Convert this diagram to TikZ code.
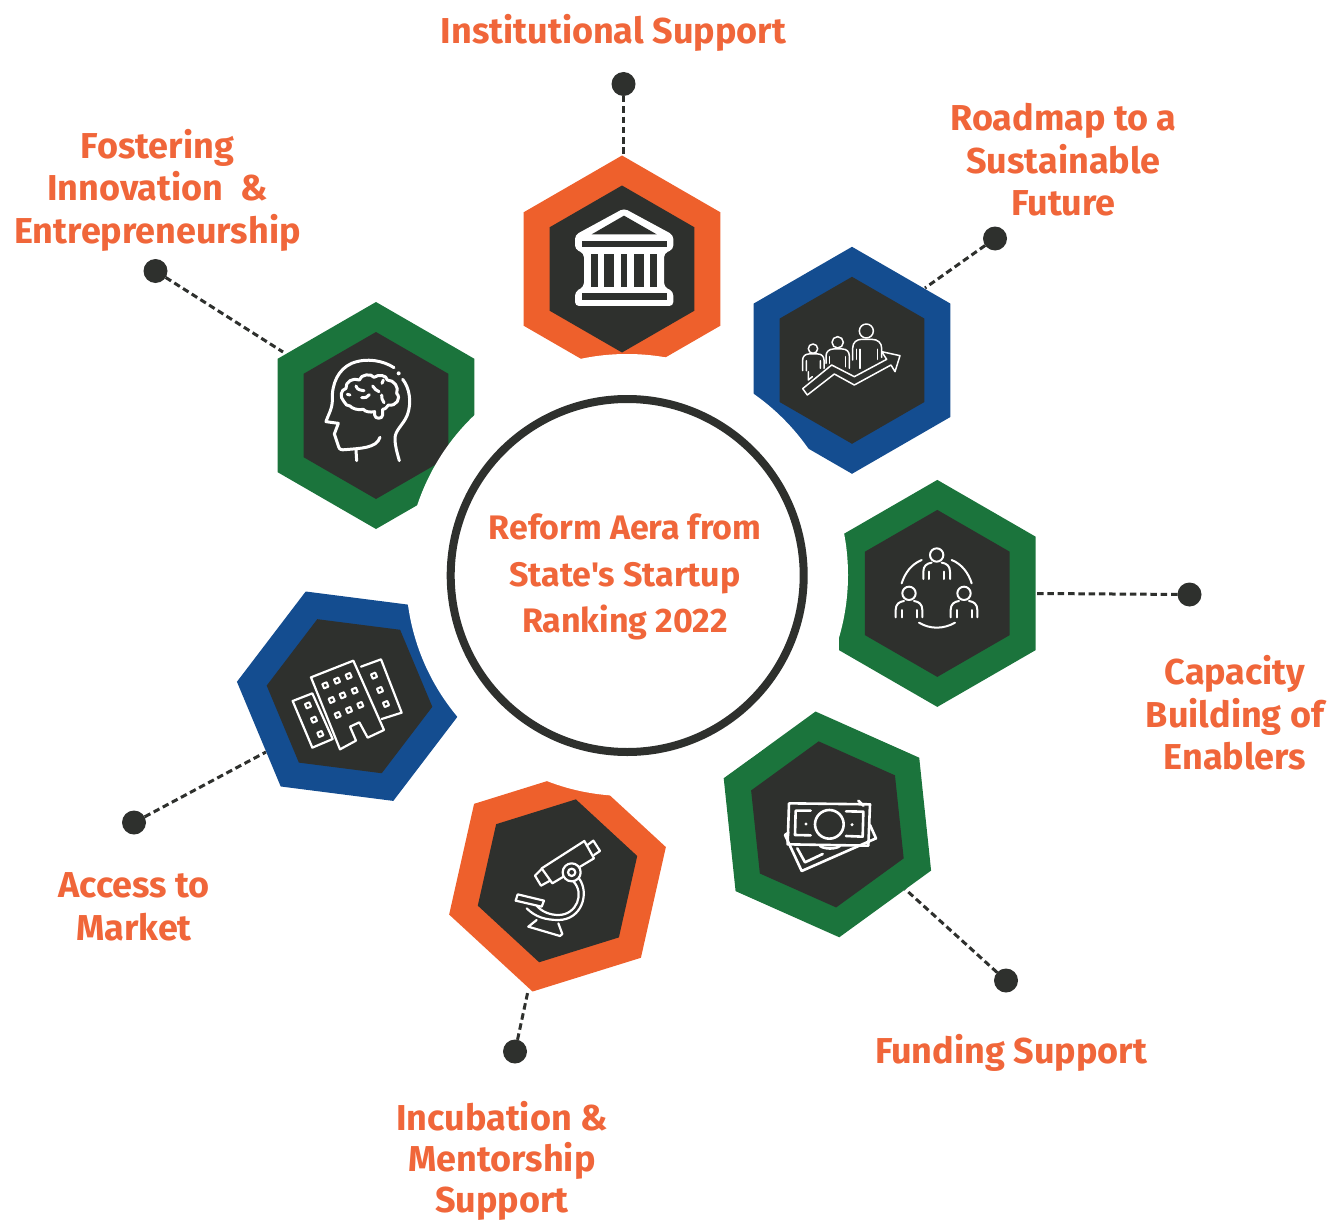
\documentclass[tikz,border=0pt]{standalone}
\usepackage{fontspec}
\newfontfamily\labfont{Fira Sans}
\usetikzlibrary{shapes.geometric}
\definecolor{orangeC}{HTML}{EE602C}
\definecolor{blueC}{HTML}{144D90}
\definecolor{greenC}{HTML}{1B743C}
\definecolor{darkC}{HTML}{2E302D}
\definecolor{textC}{HTML}{F0663A}
\tikzset{
  outerhex/.style={regular polygon,regular polygon sides=6,shape border rotate=30,minimum size=227pt,inner sep=0pt,outer sep=0pt,fill=#1},
  innerhex/.style={regular polygon,regular polygon sides=6,shape border rotate=30,minimum size=167pt,inner sep=0pt,outer sep=0pt,fill=darkC},
  enddot/.style={circle,fill=darkC,minimum size=24pt,inner sep=0pt,outer sep=0pt},
  linker/.style={draw=darkC,line width=3pt,dash pattern=on 6.5pt off 3.8pt},
  lab/.style={text=textC,align=center,inner sep=0pt,font=\fontsize{36}{42.5}\selectfont\labfont\bfseries},
  hublab/.style={text=textC,align=center,inner sep=0pt,font=\fontsize{34}{46.5}\selectfont\labfont\bfseries},
  icon/.style={draw=white,line width=#1,line cap=round,line join=round}
}
\begin{document}
\begin{tikzpicture}[x=1pt,y=-1pt]
\useasboundingbox (0,0) rectangle (1328,1220);
% connectors' free ends on the hexagons
\coordinate (e1) at (623.5,158);
\coordinate (e2) at (925,288);
\coordinate (e3) at (1037,593.5);
\coordinate (e4) at (905,889);
\coordinate (e5) at (528,991);
\coordinate (e6) at (266,752);
\coordinate (e7) at (283,352);
% dots
\node[enddot] (d1) at (623.5,84) {};
\node[enddot] (d2) at (995,238.5) {};
\node[enddot] (d3) at (1189.5,594.5) {};
\node[enddot] (d4) at (1006,980.5) {};
\node[enddot] (d5) at (515,1051.5) {};
\node[enddot] (d6) at (134,822.5) {};
\node[enddot] (d7) at (155.5,271) {};
\foreach \n in {1,...,7}{\draw[linker] (d\n) -- (e\n);}
% hexagons
\node[outerhex=orangeC] (h1) at (622,269) {};
\node[innerhex] (i1) at (622,269) {};
\node[outerhex=blueC] (h2) at (852,360.3) {};
\node[innerhex] (i2) at (852,360.3) {};
\node[outerhex=greenC] (h3) at (937.3,593.4) {};
\node[innerhex] (i3) at (937.3,593.4) {};
\node[outerhex=greenC,rotate=6] (h4) at (827.4,824.4) {};
\node[innerhex,rotate=6] (i4) at (827.4,824.4) {};
\node[outerhex=orangeC,rotate=-12.7] (h5) at (557.5,880.8) {};
\node[innerhex,rotate=-12.7] (i5) at (557.5,880.8) {};
\node[outerhex=blueC,rotate=22.7] (h6) at (349.5,696.2) {};
\node[innerhex,rotate=22.7] (i6) at (349.5,696.2) {};
\node[outerhex=greenC] (h7) at (376,415.5) {};
\node[innerhex] (i7) at (376,415.5) {};
% centre
\node[circle,fill=white,minimum size=442pt,inner sep=0pt,outer sep=0pt] (halo) at (627,575) {};
\node[circle,draw=darkC,fill=white,line width=8pt,minimum size=353pt,inner sep=0pt] (hub) at (627.2,575.5) {};
\node[hublab] (hubtext) at (625,577) {Reform Aera from\\State's Startup\\Ranking 2022};
% labels
\node[lab] (l1) at (613.5,33) {Institutional Support};
\node[lab] (l2) at (1063.5,160) {Roadmap to a\\Sustainable\\Future};
\node[lab] (l3) at (1235,713) {Capacity\\Building of\\Enablers};
\node[lab] (l4) at (1011,1053) {Funding Support};
\node[lab,font=\fontsize{36}{41}\selectfont\labfont\bfseries] (l5) at (502,1160.5) {Incubation \&\\Mentorship\\Support};
\node[lab] (l6) at (134,907) {Access to\\Market};
\node[lab] (l7) at (157.5,190) {Fostering\\Innovation \ \&\\Entrepreneurship};
% institution icon
\begin{scope}[shift={(510,150)},scale=1/3]
\fill[white,rounded corners=4pt] (342,175) -- (195,255) -- (195,298) -- (222,310) -- (222,410) -- (195,425) -- (195,468) -- (490,468) -- (490,425) -- (462,410) -- (462,310) -- (490,298) -- (490,255) -- cycle;
\fill[darkC] (342,197) -- (245,253) -- (440,253) -- cycle;
\fill[darkC] (215,272) rectangle (470,292);
\fill[darkC] (215,430) rectangle (470,450);
\foreach \a/\b in {243/263,283/312,332/352,372/401,421/441}{\fill[darkC] (\a,312) rectangle (\b,410);}
\end{scope}
% roadmap icon
\begin{scope}[shift={(510,150)},scale=1/3]
\draw[icon=1.5pt] (878,716) -- (965,645) -- (1033,680) -- (1130,628) -- (1115,605) -- (1170,617) -- (1155,665) -- (1143,645) -- (1033,705) -- (973,672) -- (892,735) -- cycle;
\draw[icon=1.5pt] (1069,543) circle[radius=21];
\draw[icon=1.5pt] (1028,630) -- (1028,595) .. controls (1028,577) and (1040,568) .. (1055,568) -- (1085,568) .. controls (1103,568) and (1115,578) .. (1115,595) -- (1115,622);
\draw[icon=1.5pt] (1040,628) -- (1040,598) (1050,655) -- (1050,598) (1102,628) -- (1102,598);
\draw[icon=1.5pt] (983,577) circle[radius=17];
\draw[icon=1.5pt] (948,640) -- (948,618) .. controls (948,605) and (958,597) .. (970,597) -- (997,597) .. controls (1010,597) and (1018,605) .. (1018,618) -- (1018,655);
\draw[icon=1.5pt] (958,640) -- (958,620) (1007,650) -- (1007,620);
\draw[icon=1.5pt] (909,596) circle[radius=14];
\draw[icon=1.5pt] (878,662) -- (878,630) .. controls (878,620) and (885,612) .. (896,612) -- (924,612) .. controls (935,612) and (942,620) .. (942,630) -- (942,655);
\draw[icon=1.5pt] (889,662) -- (889,632) (931,655) -- (931,632) (895,665) -- (895,690) -- (907,680);
\end{scope}
% capacity icon
\begin{scope}[shift={(830,480)},scale=1/3]
\foreach \dx/\dy in {0/0,-83/115,82/115}{
  \begin{scope}[shift={(\dx,\dy)}]
  \draw[icon=2pt] (320,225) circle[radius=20];
  \draw[icon=2pt] (280,297) -- (280,275) .. controls (280,258) and (290,250) .. (305,248);
  \draw[icon=2pt] (335,248) .. controls (350,250) and (360,258) .. (360,275) -- (360,297);
  \draw[icon=2pt] (298,275) -- (298,297) (343,275) -- (343,297);
  \end{scope}
}
\draw[icon=2pt] (275,240) .. controls (245,252) and (225,278) .. (215,310);
\draw[icon=2pt] (365,240) .. controls (395,252) and (415,278) .. (425,310);
\draw[icon=2pt] (267,428) .. controls (300,448) and (340,448) .. (375,428);
\end{scope}
% funding icon
\begin{scope}[shift={(720,710)},scale=1/3]
\draw[icon=2.6pt] (415,272) -- (430,287);
\draw[icon=2.6pt] (450,345) -- (468,385) -- (245,483) -- (195,375) -- (205,368);
\draw[icon=2.6pt] (232,415) -- (255,457) -- (308,432);
\draw[icon=2.6pt] (300,408) .. controls (315,418) and (345,418) .. (360,408);
\draw[icon=2.6pt] (207,280) -- (450,283) -- (445,407) -- (203,403) -- cycle;
\draw[icon=2.6pt] (272,302) -- (227,302) -- (225,375) -- (272,376);
\draw[icon=2.6pt] (378,378) -- (428,380) -- (430,305) -- (378,304);
\draw[icon=2.6pt] (328,343) circle[radius=43];
\fill[white] (258,342) circle[radius=5] (396,344) circle[radius=5];
\end{scope}
% microscope icon
\begin{scope}[shift={(445,780)},scale=1/3]
\draw[icon=2.2pt] (290,265) -- (418,183) -- (447,235) -- (322,310) -- cycle;
\draw[icon=2.2pt] (425,197) -- (445,182) -- (465,213) -- (447,225);
\draw[icon=2.2pt] (290,267) -- (270,287) -- (288,317) -- (315,302);
\draw[icon=2.2pt,fill=darkC] (380,277) circle[radius=27];
\draw[icon=2.2pt] (380,277) circle[radius=11];
\draw[icon=2.2pt] (402,295) .. controls (435,340) and (410,420) .. (340,420) .. controls (300,420) and (270,410) .. (245,385);
\draw[icon=2.2pt] (385,304) .. controls (420,340) and (395,405) .. (340,405) .. controls (315,405) and (290,395) .. (275,377);
\draw[icon=2.2pt] (212,362) -- (218,343) -- (297,362) -- (290,380) -- cycle;
\draw[icon=2.2pt] (250,440) -- (275,420);
\draw[icon=2.2pt] (340,430) -- (352,462) -- (345,468) -- (250,440);
\end{scope}
% building icon
\begin{scope}[shift={(235,590)},scale=1/3]
\draw[icon=2.2pt] (228,262) -- (355,212) -- (447,420) -- (398,443) -- (373,397) -- (345,410) -- (363,452) -- (315,478) -- cycle;
\draw[icon=2.2pt] (173,333) -- (232,310) -- (293,447) -- (232,473) -- cycle;
\draw[icon=2.2pt] (378,230) -- (438,208) -- (500,368) -- (440,387);
\foreach \x/\y in {271/286,306/272,341/258,290/330,323/316,359/302,308/375,342/360,376/345,219/346,237/389,256/432,417/257,435/300,453/342}{
  \draw[icon=2pt,shift={(\x,\y)},rotate=23] (-7,-7) rectangle (7,7);
}
\end{scope}
% brain icon
\begin{scope}[shift={(270,300)},scale=1/3]
\draw[icon=3pt] (372,203) .. controls (340,182) and (290,172) .. (245,190) .. controls (205,208) and (185,250) .. (187,300) .. controls (188,325) and (172,350) .. (168,365) -- (205,370) -- (193,402) -- (205,438) .. controls (208,450) and (215,450) .. (225,449) .. controls (270,445) and (320,445) .. (330,412);
\draw[icon=3pt] (398,238) .. controls (420,265) and (425,310) .. (412,345) .. controls (400,375) and (375,390) .. (375,415) .. controls (375,440) and (382,460) .. (388,482);
\draw[icon=3pt] (258,450) -- (260,482);
\fill[white] (386,220) circle[radius=6];
\draw[icon=3pt] (222,305) .. controls (208,290) and (212,270) .. (228,265) .. controls (225,245) and (250,232) .. (268,240) .. controls (272,222) and (305,220) .. (312,232) .. controls (325,222) and (350,225) .. (352,240) .. controls (372,240) and (388,262) .. (380,280) .. controls (395,295) and (378,320) .. (355,315) .. controls (348,325) and (342,330) .. (338,328) -- (338,345) .. controls (338,358) and (314,358) .. (314,345) -- (314,335) .. controls (300,338) and (285,335) .. (280,328) .. controls (265,332) and (245,325) .. (240,318) .. controls (232,320) and (226,312) .. (222,305) -- cycle;
\draw[icon=3pt] (258,258) .. controls (262,270) and (270,270) .. (282,272);
\draw[icon=3pt] (308,258) .. controls (312,268) and (320,270) .. (327,275);
\draw[icon=3pt] (335,285) .. controls (333,295) and (338,300) .. (342,308);
\draw[icon=3pt] (275,293) .. controls (285,295) and (292,292) .. (298,284);
\draw[icon=3pt] (232,283) -- (240,285);
\draw[icon=3pt] (340,240) -- (336,250);
\end{scope}
\end{tikzpicture}
\end{document}
